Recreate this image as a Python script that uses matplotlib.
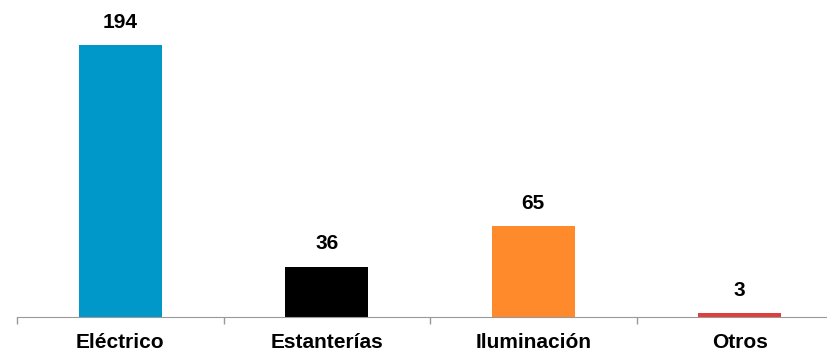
import matplotlib.pyplot as plt

categories = ["Eléctrico", "Estanterías", "Iluminación", "Otros"]
values = [194, 36, 65, 3]
colors = ["#0097c9", "#000000", "#ff8a2b", "#df3e3e"]

W, H = 827, 353
fig = plt.figure(figsize=(W / 100, H / 100), dpi=100)
# axes run a little past the right edge, so the last slot is cut off
ax = fig.add_axes([17 / W, 36 / H, 826 / W, 317 / H])

x = range(len(categories))
bars = ax.bar(x, values, width=0.4, color=colors)

for bar, v in zip(bars, values):
    ax.annotate(
        str(v),
        (bar.get_x() + bar.get_width() / 2, v),
        xytext=(0, 9.5),
        textcoords="offset points",
        ha="center",
        va="bottom",
        fontsize=15,
        fontweight="bold",
        family="Liberation Sans",
    )

ax.set_xlim(-0.5, len(categories) - 0.5)
ax.set_ylim(0, 226)
ax.set_xticks([i - 0.5 for i in range(len(categories))], minor=False)
ax.set_xticklabels([])
ax.set_xticks(list(x), minor=True)
ax.set_xticklabels(categories, minor=True, fontsize=15, fontweight="bold",
                   family="Liberation Sans")
ax.tick_params(axis="x", which="major", length=5, color="#999999", width=1)
ax.tick_params(axis="x", which="minor", length=0, pad=11.5)
ax.set_yticks([])

for side in ["top", "right", "left"]:
    ax.spines[side].set_visible(False)
ax.spines["bottom"].set_color("#999999")

fig.savefig("out.png", dpi=100)
